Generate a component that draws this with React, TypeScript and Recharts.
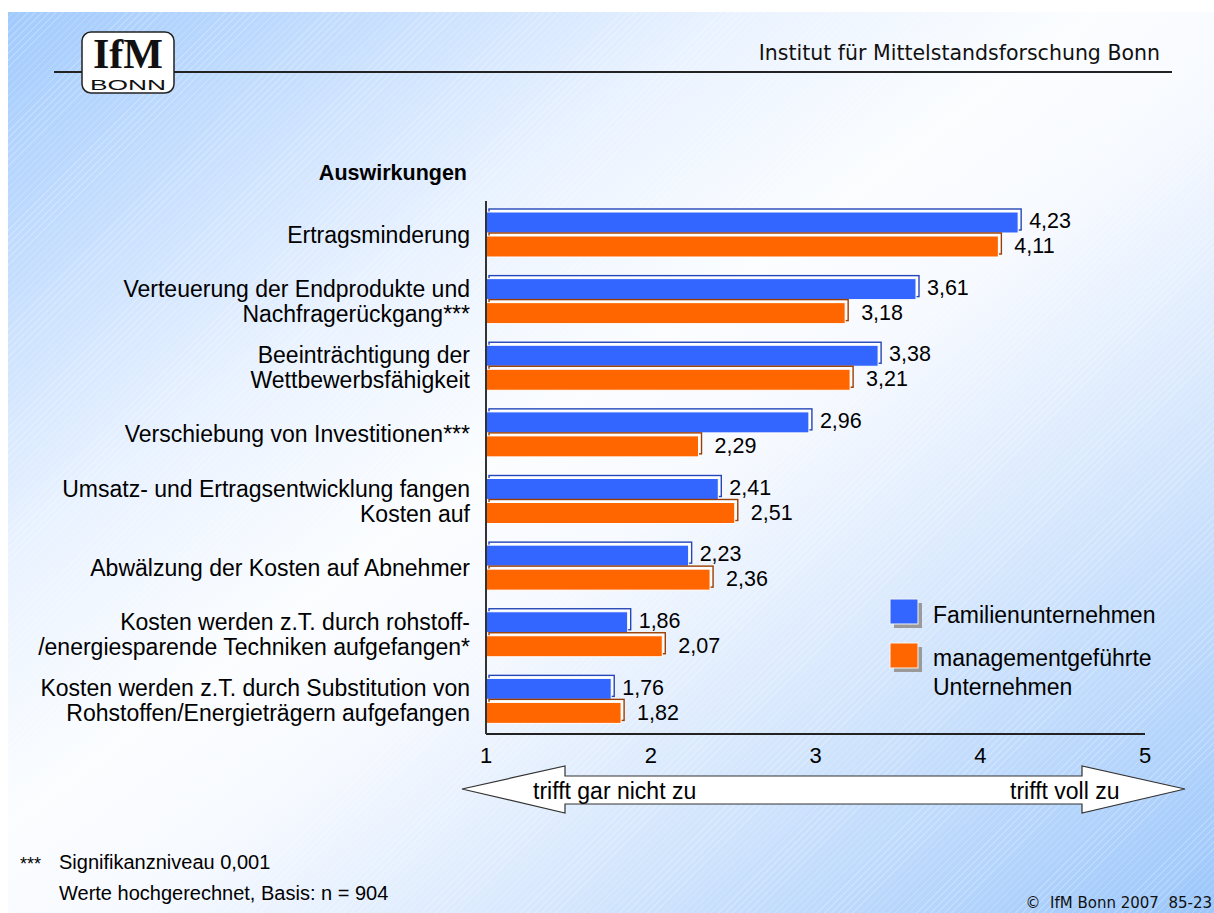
import { BarChart, Bar, XAxis, YAxis, LabelList } from 'recharts';

const categories = [
  'Ertragsminderung',
  'Verteuerung der Endprodukte und\nNachfragerückgang***',
  'Beeinträchtigung der\nWettbewerbsfähigkeit',
  'Verschiebung von Investitionen***',
  'Umsatz- und Ertragsentwicklung fangen\nKosten auf',
  'Abwälzung der Kosten auf Abnehmer',
  'Kosten werden z.T. durch rohstoff-\n/energiesparende Techniken aufgefangen*',
  'Kosten werden z.T. durch Substitution von\nRohstoffen/Energieträgern aufgefangen',
];
const familienValues = [4.23, 3.61, 3.38, 2.96, 2.41, 2.23, 1.86, 1.76];
const managementValues = [4.11, 3.18, 3.21, 2.29, 2.51, 2.36, 2.07, 1.82];
const xTicks = [1, 2, 3, 4, 5];
const seriesLabels = ['Familienunternehmen', 'managementgeführte\nUnternehmen'];

const BLUE = '#3366ff';
const BLUE_DARK = '#2446b8';
const ORANGE = '#ff6600';
const ORANGE_DARK = '#9c3d00';
const SANS = '"Liberation Sans", Arial, sans-serif';

const data = categories.map((name, i) => ({
  name,
  familien: familienValues[i],
  management: managementValues[i],
}));

const fmt = (v: number) => v.toFixed(2).replace('.', ',');

// front face plus an offset back face, like the old Excel 3D bars
function Bar3D(props: any) {
  const { x, y, width, height, fill, dark } = props;
  if (!width || width <= 0) return null;
  const d = 3;
  return (
    <g>
      <rect x={x + d} y={y - d} width={width} height={height} fill="#ffffff" stroke={dark} strokeWidth={1.4} />
      <rect x={x} y={y} width={width} height={height} fill={fill} stroke="#ffffff" strokeWidth={1} />
    </g>
  );
}

function CategoryTick({ x, y, payload }: any) {
  const lines = String(payload.value).split('\n');
  const lh = 25;
  const start = y - ((lines.length - 1) * lh) / 2;
  return (
    <text textAnchor="end" fontSize={23} fontFamily={SANS} fill="#000">
      {lines.map((line, i) => (
        <tspan key={i} x={x} y={start + i * lh} dy="0.36em">
          {line}
        </tspan>
      ))}
    </text>
  );
}

function ValueTick({ x, y, payload }: any) {
  return (
    <text x={x} y={y} dy="0.72em" textAnchor="middle" fontSize={22} fontFamily={SANS} fill="#000">
      {payload.value}
    </text>
  );
}

const valueLabel = (offset: number, shift: number) => (props: any) => {
  const { x, y, width, height, value } = props;
  return (
    <text
      x={x + width + offset}
      y={y + height / 2 + shift}
      dy="0.36em"
      fontSize={21.5}
      fontFamily={SANS}
      fill="#000"
    >
      {fmt(Number(value))}
    </text>
  );
};

function Overlay() {
  const legendRows = [
    { color: BLUE, y: 599, lines: seriesLabels[0].split('\n'), textY: 615 },
    { color: ORANGE, y: 643, lines: seriesLabels[1].split('\n'), textY: 658 },
  ];
  return (
    <svg
      width={1214}
      height={913}
      style={{ position: 'absolute', left: 0, top: 0, pointerEvents: 'none' }}
    >
      {/* header */}
      <line x1={54} y1={72} x2={1172} y2={72} stroke="#222" strokeWidth={2} />
      <rect x={82} y={32} width={92} height={61} rx={9} fill="#fff" stroke="#222" strokeWidth={1.5} />
      <text x={128} y={68} textAnchor="middle" fontSize={42} fontWeight="bold" fontFamily='"Liberation Serif", "Times New Roman", serif' fill="#111">
        IfM
      </text>
      <text x={90} y={90} fontSize={15} fontFamily={SANS} fill="#111" textLength={76} lengthAdjust="spacingAndGlyphs">
        BONN
      </text>
      <text x={1160} y={60} textAnchor="end" fontSize={20.5} fontFamily='"DejaVu Sans", Verdana, sans-serif' fill="#111">
        Institut für Mittelstandsforschung Bonn
      </text>

      {/* title */}
      <text x={467} y={172} dy="0.36em" textAnchor="end" fontSize={21.5} fontWeight="bold" fontFamily={SANS} fill="#000">
        Auswirkungen
      </text>

      {/* legend */}
      {legendRows.map((row, i) => (
        <g key={i}>
          <rect x={894} y={row.y + 4} width={28} height={25} fill="#9a9a9a" />
          <rect x={890} y={row.y} width={28} height={25} fill={row.color} stroke="#f4f4f4" strokeWidth={1} />
          {row.lines.map((line, j) => (
            <text key={j} x={933} y={row.textY + j * 29} dy="0.36em" fontSize={23} fontFamily={SANS} fill="#000">
              {line}
            </text>
          ))}
        </g>
      ))}

      {/* scale arrow */}
      <polygon
        points="462,789 565,766 565,776 1082,776 1082,766 1185,789 1082,813 1082,804 565,804 565,813"
        fill="#fff"
        stroke="#333"
        strokeWidth={1.2}
      />
      <text x={533} y={791} dy="0.36em" fontSize={23} fontFamily={SANS} fill="#000">
        trifft gar nicht zu
      </text>
      <text x={1010} y={791} dy="0.36em" fontSize={23} fontFamily={SANS} fill="#000">
        trifft voll zu
      </text>

      {/* footer */}
      <text x={20} y={864} dy="0.36em" fontSize={18} fontFamily={SANS} fill="#000">
        ***
      </text>
      <text x={59} y={862} dy="0.36em" fontSize={20} fontFamily={SANS} fill="#000">
        Signifikanzniveau 0,001
      </text>
      <text x={59} y={893} dy="0.36em" fontSize={20} fontFamily={SANS} fill="#000">
        Werte hochgerechnet, Basis: n = 904
      </text>
      <text x={1212} y={908} textAnchor="end" fontSize={15} fontFamily='"DejaVu Sans", Verdana, sans-serif' fill="#111" style={{ whiteSpace: 'pre' }}>
        {'©  IfM Bonn 2007  85-23'}
      </text>
    </svg>
  );
}

export default function App() {
  return (
    <div style={{ position: 'absolute', left: 0, top: 0, width: 1214, height: 913, background: '#fff', overflow: 'hidden' }}>
      <div
        style={{
          position: 'absolute',
          left: 8,
          top: 12,
          width: 1206,
          height: 901,
          background:
            'repeating-linear-gradient(-45deg, rgba(255,255,255,0.22) 0px, rgba(255,255,255,0.22) 1px, rgba(255,255,255,0) 1px, rgba(255,255,255,0) 5px), linear-gradient(to bottom right, #a1cafd 0%, #e9f2ff 30%, #fbfdff 45%, #f6f9ff 55%, #d6e7fd 72%, #9cc7fb 100%)',
        }}
      />
      <div style={{ position: 'absolute', left: 0, top: 0 }}>
        <BarChart
          width={1214}
          height={913}
          data={data}
          layout="vertical"
          margin={{ top: 201, right: 69, bottom: 149, left: 16 }}
          barSize={21}
          barGap={3}
        >
          <XAxis
            type="number"
            domain={[1, 5]}
            ticks={xTicks}
            height={30}
            tickSize={0}
            tickMargin={13}
            tickLine={false}
            axisLine={{ stroke: '#222', strokeWidth: 2 }}
            tick={<ValueTick />}
          />
          <YAxis
            type="category"
            dataKey="name"
            width={470}
            tickSize={0}
            tickMargin={16}
            tickLine={false}
            axisLine={{ stroke: '#333', strokeWidth: 2 }}
            tick={<CategoryTick />}
            interval={0}
          />
          <Bar
            dataKey="familien"
            fill={BLUE}
            isAnimationActive={false}
            shape={(p: any) => <Bar3D {...p} dark={BLUE_DARK} />}
          >
            <LabelList dataKey="familien" content={valueLabel(11, -2)} />
          </Bar>
          <Bar
            dataKey="management"
            fill={ORANGE}
            isAnimationActive={false}
            shape={(p: any) => <Bar3D {...p} dark={ORANGE_DARK} />}
          >
            <LabelList dataKey="management" content={valueLabel(16, -1)} />
          </Bar>
        </BarChart>
      </div>
      <Overlay />
    </div>
  );
}
